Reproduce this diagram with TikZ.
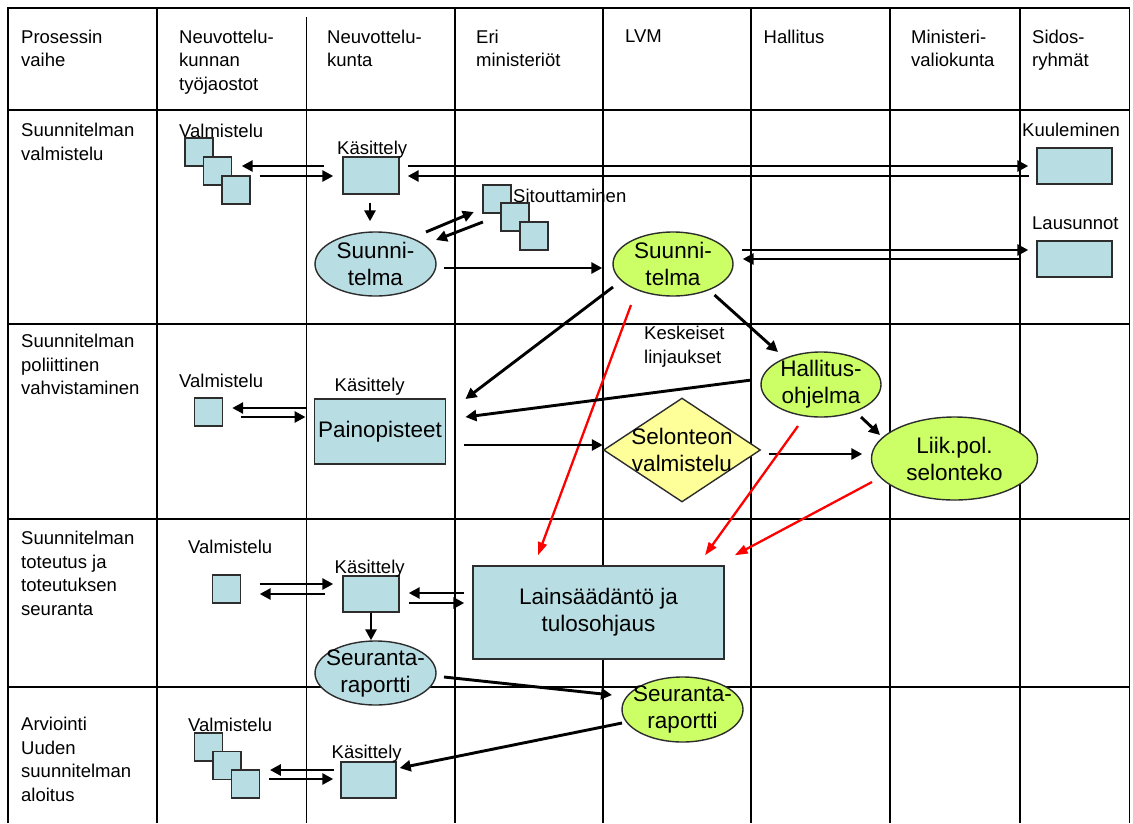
\documentclass[tikz,border=0pt]{standalone}
\usepackage{fontspec}
\setmainfont{Liberation Sans}
\usetikzlibrary{arrows.meta, calc, shapes.geometric}

\definecolor{paleblue}{RGB}{184,222,228}
\definecolor{limegreen}{RGB}{204,255,102}
\definecolor{paleyellow}{RGB}{255,255,153}
\definecolor{edgegray}{RGB}{45,45,45}

\tikzset{
  tableline/.style={line width=1.4pt, black},
  small/.style={font=\fontsize{18.5}{23.5}\selectfont, inner sep=0, align=left},
  big/.style={font=\fontsize{22.5}{27}\selectfont, inner sep=0, align=center},
  bluebox/.style={draw=edgegray, fill=paleblue, line width=1.4pt, inner sep=0},
  sq/.style={bluebox, minimum size=28pt},
  oval/.style={ellipse, draw=edgegray, line width=1.4pt, inner sep=0, minimum width=121pt, minimum height=64pt},
  arr/.style={line width=2.9pt, -{Triangle[length=11pt, width=11pt]}},
  redarr/.style={red, line width=2.3pt, -{Triangle[length=13pt, width=9pt]}}
}

\begin{document}
\begin{tikzpicture}[x=1pt, y=-1pt]
\useasboundingbox (0,0) rectangle (1133,823);

\draw[tableline] (8,823) -- (8,8) -- (1129.5,8) -- (1129.5,823);
\foreach \y in {110,324,519,687}
  \draw[tableline] (8,\y) -- (1129.5,\y);
\foreach \x in {157,455,603,751,890,1020}
  \draw[tableline] (\x,8) -- (\x,823);
\draw[tableline] (306.5,17) -- (306.5,823);

\node[small, anchor=north west] (h1) at (21,29.5) {Prosessin\\vaihe};
\node[small, anchor=north west] (h2) at (179,29.5) {Neuvottelu-\\kunnan\\työjaostot};
\node[small, anchor=north west] (h3) at (327,29.5) {Neuvottelu-\\kunta};
\node[small, anchor=north west] (h4) at (476,29.5) {Eri\\ministeriöt};
\node[small, anchor=north west] (h5) at (625,29.5) {LVM};
\node[small, anchor=north west] (h6) at (763.5,29.5) {Hallitus};
\node[small, anchor=north west] (h7) at (911,29.5) {Ministeri-\\valiokunta};
\node[small, anchor=north west] (h8) at (1032,29.5) {Sidos-\\ryhmät};

\node[small, anchor=north west] (p1) at (21,123) {Suunnitelman\\valmistelu};
\node[small, anchor=north west] (p2) at (21,334) {Suunnitelman\\poliittinen\\vahvistaminen};
\node[small, anchor=north west] (p3) at (21,531) {Suunnitelman\\toteutus ja\\toteutuksen\\seuranta};
\node[small, anchor=north west] (p4) at (21,717) {Arviointi\\Uuden\\suunnitelman\\aloitus};

\node[small, anchor=base west] (valm1) at (179,137) {Valmistelu};
\node[sq] (v1a) at (199,152) {};
\node[sq] (v1b) at (217.5,171) {};
\node[sq] (v1c) at (236,190) {};
\node[bluebox, minimum width=56pt, minimum height=37pt] (k1) at (371,175.5) {};
\node[small, anchor=base west] (kas1) at (337,154) {Käsittely};
\node[oval, fill=paleblue, label={[big]center:Suunni-\\telma}] (s1) at (375.5,264) {};
\node[sq] (sitA) at (497,199) {};
\node[sq] (sitB) at (515,217) {};
\node[sq] (sitC) at (534,236) {};
\node[small, anchor=base west] (sitl) at (513,202) {Sitouttaminen};
\node[oval, fill=limegreen, minimum width=120pt, label={[big]center:Suunni-\\telma}] (s2) at (673,264) {};
\node[small, anchor=base west] (kuull) at (1022,136) {Kuuleminen};
\node[bluebox, minimum width=75pt, minimum height=36pt] (kuul) at (1074.5,166) {};
\node[small, anchor=base west] (lausl) at (1032,229) {Lausunnot};
\node[bluebox, minimum width=75pt, minimum height=36pt] (laus) at (1074.5,259) {};

\node[small, anchor=base west] (valm2) at (179,387) {Valmistelu};
\node[sq] (v2) at (208.5,412) {};
\node[small, anchor=base west] (kas2) at (334.5,391) {Käsittely};
\node[bluebox, big, minimum width=130.5pt, minimum height=65pt] (paino) at (380,431.5) {Painopisteet};
\node[small, anchor=north west] (kesk) at (644,326) {Keskeiset\\linjaukset};
\node[diamond, draw=edgegray, fill=paleyellow, line width=1.4pt, inner sep=0, minimum width=157pt, minimum height=104pt,
      label={[big]center:Selonteon\\valmistelu}] (sel) at (682,450) {};
\node[oval, fill=limegreen, minimum width=120pt, minimum height=65pt, label={[big]center:Hallitus-\\ohjelma}] (hal) at (821,384.5) {};
\node[oval, fill=limegreen, minimum width=166pt, minimum height=83pt, label={[big]center:Liik.pol.\\selonteko}] (liik) at (954.5,458.5) {};

\node[small, anchor=base west] (valm3) at (188,553) {Valmistelu};
\node[sq] (v3) at (226.7,589) {};
\node[bluebox, minimum width=56pt, minimum height=36pt] (k3) at (371,594) {};
\node[small, anchor=base west] (kas3) at (334.5,573) {Käsittely};
\node[bluebox, big, minimum width=251pt, minimum height=93pt] (lain) at (598.5,612.5) {Lainsäädäntö ja\\tulosohjaus};
\node[oval, fill=paleblue, label={[big]center:Seuranta-\\raportti}] (r1) at (375.5,673) {};
\node[oval, fill=limegreen, minimum height=65pt, label={[big]center:Seuranta-\\raportti}] (r2) at (682.5,709.5) {};

\node[small, anchor=base west] (valm4) at (188,731) {Valmistelu};
\node[sq] (v4a) at (208.5,747) {};
\node[sq] (v4b) at (227,765.5) {};
\node[sq] (v4c) at (245.5,784) {};
\node[bluebox, minimum width=55pt, minimum height=36pt] (k4) at (368.5,780) {};
\node[small, anchor=base west] (kas4) at (331.5,758) {Käsittely};

\draw[arr] ($(k1.west)+(-18,-9.5)$) -- ($(v1b.east)+(9.5,-5)$);
\draw[arr] ($(v1c.east)+(9,-14)$) -- ($(k1.west)+(-9,0.5)$);
\draw[arr] ($(k1.east)+(8,-9.5)$) -- ($(kuul.west)+(-8,0)$);
\draw[arr] ($(kuul.west)+(-7,10)$) -- ($(k1.east)+(8,0.5)$);
\draw[arr] ($(k1.south)+(-1,8)$) -- ($(s1.north)+(-5.5,-10)$);
\draw[arr] ($(s1)+(50.5,-32)$) -- ($(sitA.west)+(-8.5,13)$);
\draw[arr] ($(sitB.west)+(-17.4,5)$) -- ($(s1)+(60.5,-24)$);
\draw[arr] ($(s1)+(68.5,4)$) -- ($(s2.west)+(-10,4)$);
\draw[arr] ($(s2.east)+(8,-14)$) -- ($(laus.west)+(-8,-9)$);
\draw[arr] ($(laus.west)+(-17,0)$) -- ($(s2.east)+(9,-5)$);
\draw[arr] ($(s2)+(-60,23)$) -- ($(paino.east)+(19.5,-32.5)$);
\draw[arr] ($(s2)+(41.5,31)$) -- ($(hal)+(-43,-32.5)$);
\draw[redarr] ($(s2)+(-42,41)$) -- ($(lain.north)+(-60.5,-10)$);

\draw[arr] ($(paino.west)+(-8.5,-23.5)$) -- ($(v2.east)+(9,-4)$);
\draw[arr] ($(v2.east)+(17.5,5)$) -- ($(paino.west)+(-8.5,-14.5)$);
\draw[arr] ($(hal)+(-69.4,-4.5)$) -- ($(paino.east)+(19.5,-14.5)$);
\draw[arr] ($(paino.east)+(18,13.5)$) -- ($(sel.west)+(0,-5)$);
\draw[arr] ($(sel.east)+(7.5,4)$) -- ($(liik.west)+(-8.5,-4.5)$);
\draw[arr] ($(hal)+(40,32.5)$) -- ($(liik)+(-74.5,-23.5)$);
\draw[redarr] ($(hal)+(-23,41.5)$) -- ($(lain.north)+(106.5,-10)$);
\draw[redarr] ($(liik)+(-82.5,23.5)$) -- ($(lain.north east)+(10,-10)$);

\draw[arr] ($(v3.east)+(18.3,-5)$) -- ($(k3.west)+(-9,-10)$);
\draw[arr] ($(k3.west)+(-17.5,0)$) -- ($(v3.east)+(18.3,5)$);
\draw[arr] ($(lain.west)+(-8,-19.5)$) -- ($(k3.east)+(9,-1)$);
\draw[arr] ($(k3.east)+(9,9)$) -- ($(lain.west)+(-8,-9.5)$);
\draw[arr] (k3.south) -- (k3.south |- r1.north);
\draw[arr] ($(r1)+(68.5,4)$) -- ($(r2)+(-70.5,-14.5)$);
\draw[arr] ($(r2)+(-60.5,13.5)$) -- ($(k4.east)+(3,-12)$);

\draw[arr] ($(k4.west)+(-6,-10)$) -- ($(v4c.east)+(9.7,-14)$);
\draw[arr] ($(v4c.east)+(8.7,-5)$) -- ($(k4.west)+(-7,-1)$);
\end{tikzpicture}
\end{document}
